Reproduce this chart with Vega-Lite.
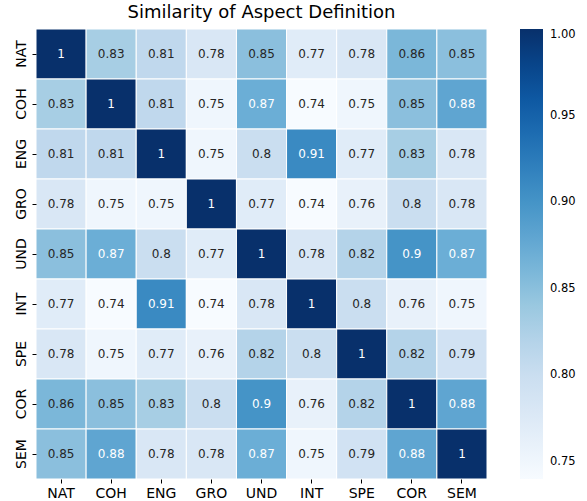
{
  "$schema": "https://vega.github.io/schema/vega-lite/v6.json",
  "autosize": {"type": "none"},
  "padding": {"left": 36, "top": 29, "right": 100, "bottom": 22},
  "width": 451,
  "height": 450,
  "title": {"text": "Similarity of Aspect Definition", "fontSize": 18, "fontWeight": "normal", "color": "#000000", "offset": 7, "anchor": "middle"},
  "config": {
    "font": "DejaVu Sans",
    "view": {"stroke": null},
    "axis": {"domain": false, "grid": false, "tickColor": "#000000", "tickSize": 4, "tickWidth": 1, "labelColor": "#000000", "labelFontSize": 14, "title": null}
  },
  "data": {"values": [
    {"row":"NAT","col":"NAT","value":1.0},{"row":"NAT","col":"COH","value":0.83},{"row":"NAT","col":"ENG","value":0.81},{"row":"NAT","col":"GRO","value":0.78},{"row":"NAT","col":"UND","value":0.85},{"row":"NAT","col":"INT","value":0.77},{"row":"NAT","col":"SPE","value":0.78},{"row":"NAT","col":"COR","value":0.86},{"row":"NAT","col":"SEM","value":0.85},
    {"row":"COH","col":"NAT","value":0.83},{"row":"COH","col":"COH","value":1.0},{"row":"COH","col":"ENG","value":0.81},{"row":"COH","col":"GRO","value":0.75},{"row":"COH","col":"UND","value":0.87},{"row":"COH","col":"INT","value":0.74},{"row":"COH","col":"SPE","value":0.75},{"row":"COH","col":"COR","value":0.85},{"row":"COH","col":"SEM","value":0.88},
    {"row":"ENG","col":"NAT","value":0.81},{"row":"ENG","col":"COH","value":0.81},{"row":"ENG","col":"ENG","value":1.0},{"row":"ENG","col":"GRO","value":0.75},{"row":"ENG","col":"UND","value":0.8},{"row":"ENG","col":"INT","value":0.91},{"row":"ENG","col":"SPE","value":0.77},{"row":"ENG","col":"COR","value":0.83},{"row":"ENG","col":"SEM","value":0.78},
    {"row":"GRO","col":"NAT","value":0.78},{"row":"GRO","col":"COH","value":0.75},{"row":"GRO","col":"ENG","value":0.75},{"row":"GRO","col":"GRO","value":1.0},{"row":"GRO","col":"UND","value":0.77},{"row":"GRO","col":"INT","value":0.74},{"row":"GRO","col":"SPE","value":0.76},{"row":"GRO","col":"COR","value":0.8},{"row":"GRO","col":"SEM","value":0.78},
    {"row":"UND","col":"NAT","value":0.85},{"row":"UND","col":"COH","value":0.87},{"row":"UND","col":"ENG","value":0.8},{"row":"UND","col":"GRO","value":0.77},{"row":"UND","col":"UND","value":1.0},{"row":"UND","col":"INT","value":0.78},{"row":"UND","col":"SPE","value":0.82},{"row":"UND","col":"COR","value":0.9},{"row":"UND","col":"SEM","value":0.87},
    {"row":"INT","col":"NAT","value":0.77},{"row":"INT","col":"COH","value":0.74},{"row":"INT","col":"ENG","value":0.91},{"row":"INT","col":"GRO","value":0.74},{"row":"INT","col":"UND","value":0.78},{"row":"INT","col":"INT","value":1.0},{"row":"INT","col":"SPE","value":0.8},{"row":"INT","col":"COR","value":0.76},{"row":"INT","col":"SEM","value":0.75},
    {"row":"SPE","col":"NAT","value":0.78},{"row":"SPE","col":"COH","value":0.75},{"row":"SPE","col":"ENG","value":0.77},{"row":"SPE","col":"GRO","value":0.76},{"row":"SPE","col":"UND","value":0.82},{"row":"SPE","col":"INT","value":0.8},{"row":"SPE","col":"SPE","value":1.0},{"row":"SPE","col":"COR","value":0.82},{"row":"SPE","col":"SEM","value":0.79},
    {"row":"COR","col":"NAT","value":0.86},{"row":"COR","col":"COH","value":0.85},{"row":"COR","col":"ENG","value":0.83},{"row":"COR","col":"GRO","value":0.8},{"row":"COR","col":"UND","value":0.9},{"row":"COR","col":"INT","value":0.76},{"row":"COR","col":"SPE","value":0.82},{"row":"COR","col":"COR","value":1.0},{"row":"COR","col":"SEM","value":0.88},
    {"row":"SEM","col":"NAT","value":0.85},{"row":"SEM","col":"COH","value":0.88},{"row":"SEM","col":"ENG","value":0.78},{"row":"SEM","col":"GRO","value":0.78},{"row":"SEM","col":"UND","value":0.87},{"row":"SEM","col":"INT","value":0.75},{"row":"SEM","col":"SPE","value":0.79},{"row":"SEM","col":"COR","value":0.88},{"row":"SEM","col":"SEM","value":1.0}
  ]},
  "encoding": {
    "x": {"field": "col", "type": "nominal", "sort": ["NAT","COH","ENG","GRO","UND","INT","SPE","COR","SEM"], "scale": {"paddingInner": 0, "paddingOuter": 0}, "axis": {"labelAngle": 0, "labelPadding": 3, "orient": "bottom"}},
    "y": {"field": "row", "type": "nominal", "sort": ["NAT","COH","ENG","GRO","UND","INT","SPE","COR","SEM"], "scale": {"paddingInner": 0, "paddingOuter": 0}, "axis": {"labelAngle": -90, "labelAlign": "center", "labelBaseline": "bottom", "labelPadding": 4}}
  },
  "layer": [
    {
      "mark": {"type": "rect", "stroke": "#ffffff", "strokeWidth": 1},
      "encoding": {
        "color": {
          "field": "value", "type": "quantitative",
          "scale": {"domain": [0.7402, 1.0], "range": ["#f7fbff","#deebf7","#c6dbef","#9ecae1","#6baed6","#4292c6","#2171b5","#08519c","#08306b"], "interpolate": "rgb"},
          "legend": {"title": null, "orient": "right", "offset": 33, "padding": 0, "gradientLength": 450, "gradientThickness": 23, "gradientStrokeWidth": 0, "values": [0.75, 0.8, 0.85, 0.9, 0.95, 1.0], "format": ".2f", "labelFontSize": 11.5, "labelColor": "#000000", "labelOffset": 7, "labelOverlap": false, "labelBaseline": "middle"}
        }
      }
    },
    {
      "mark": {"type": "text", "fontSize": 12},
      "encoding": {
        "text": {"field": "value", "type": "quantitative", "format": ".2~g"},
        "color": {"condition": {"test": "datum.value > 0.865", "value": "#ffffff"}, "value": "#262626"}
      }
    }
  ]
}
